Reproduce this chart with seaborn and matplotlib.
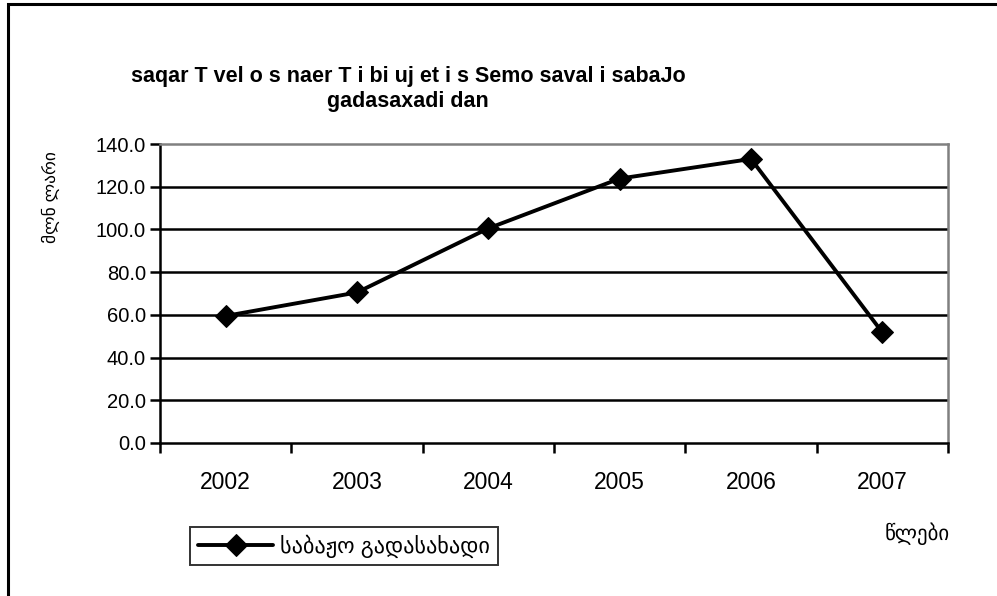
import numpy as np
import matplotlib
matplotlib.use("Agg")
import matplotlib.pyplot as plt
import seaborn as sns
from matplotlib.patches import Rectangle
from matplotlib.ticker import FixedLocator, NullFormatter

years = ["2002", "2003", "2004", "2005", "2006", "2007"]
customs = [59.5, 70.5, 100.5, 123.8, 133.0, 51.8]
y_ticks = [0, 20, 40, 60, 80, 100, 120, 140]

title = "saqar T vel o s naer T i bi uj et i s Semo saval i sabaJo\ngadasaxadi dan"
y_label = "მლნ ლარი"
x_label = "წლები"
series_name = "საბაჟო გადასახადი"

sns.set_theme(style="white", rc={"text.color": "black", "axes.labelcolor": "black",
                                 "xtick.color": "black", "ytick.color": "black"})
plt.rcParams["font.family"] = ["Liberation Sans", "DejaVu Sans"]

fig = plt.figure(figsize=(9.97, 5.96), dpi=100)
ax = fig.add_axes([160 / 997, 1 - 443 / 596, 788 / 997, 299 / 596])

x = np.arange(len(years))
sns.lineplot(x=x, y=customs, ax=ax, color="black", linewidth=2.8,
             marker="D", markersize=11, markeredgecolor="black",
             label=series_name, legend=False)

ax.set_xlim(-0.5, len(years) - 0.5)
ax.set_ylim(0, 140)
ax.set_yticks(y_ticks)
ax.set_yticklabels([f"{v:.1f}" for v in y_ticks], fontsize=14.5)
for v in y_ticks[1:-1]:
    ax.axhline(v, color="black", linewidth=1.8, zorder=0)

ax.xaxis.set_major_locator(FixedLocator(np.arange(-0.5, len(years), 1.0)))
ax.xaxis.set_major_formatter(NullFormatter())
ax.xaxis.set_minor_locator(FixedLocator(x))
ax.set_xticklabels(years, minor=True, fontsize=16.5)
ax.tick_params(axis="x", which="major", length=7, width=1.8, color="black", direction="out", bottom=True)
ax.tick_params(axis="x", which="minor", length=0, pad=20)
ax.tick_params(axis="y", length=7, width=1.8, color="black", direction="out", left=True, pad=3)

for side in ["left", "bottom"]:
    ax.spines[side].set_color("black")
    ax.spines[side].set_linewidth(1.8)
for side in ["top", "right"]:
    ax.spines[side].set_color("#808080")
    ax.spines[side].set_linewidth(1.8)
ax.set_xlabel("")
ax.set_ylabel("")

fig.text(408 / 997, 1 - 89 / 596, title, ha="center", va="center", fontsize=15.5,
         fontweight="bold", linespacing=1.25, color="black")
fig.text(51 / 997, 1 - 197 / 596, y_label, rotation=90, ha="center", va="center", fontsize=12.5)
fig.text(917 / 997, 1 - 534 / 596, x_label, ha="center", va="center", fontsize=15)

leg = fig.legend(loc="center left", bbox_to_anchor=(179 / 997, 1 - 546 / 596),
                 frameon=True, fancybox=False, fontsize=16, handlelength=3.4,
                 borderpad=0.35, handletextpad=0.3, edgecolor="black")
leg.get_frame().set_linewidth(1.4)

fig.patches.append(Rectangle((8 / 997, -0.1), 1.2, 1 - 4 / 596 + 0.1, transform=fig.transFigure,
                             fill=False, edgecolor="black", linewidth=2.2))

fig.savefig("out.png", dpi=100)
